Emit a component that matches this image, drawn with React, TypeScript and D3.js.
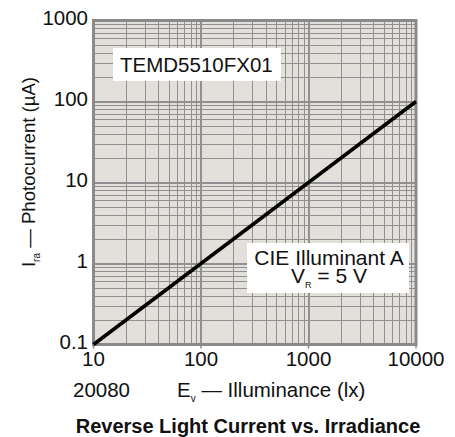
import { useEffect, useRef } from "react";
import * as d3 from "d3";

// Reverse light current vs. illuminance (log-log)
const illuminance = [10, 10000];
const photocurrent = [0.1, 100];

const xTicks = [10, 100, 1000, 10000];
const yTicks = [0.1, 1, 10, 100, 1000];

const FONT = "'Liberation Sans', Arial, Helvetica, sans-serif";

export default function App() {
  const svgRef = useRef<SVGSVGElement | null>(null);

  useEffect(() => {
    if (!svgRef.current) return;
    const W = 455, H = 437;
    const svg = d3.select(svgRef.current);
    svg.selectAll("*").remove();
    svg.attr("width", W).attr("height", H).attr("font-family", FONT);

    const x = d3.scaleLog().domain([10, 10000]).range([93.5, 416]);
    const y = d3.scaleLog().domain([0.1, 1000]).range([344.5, 20.5]);
    const [x0, x1] = x.range();
    const [y0, y1] = y.range();

    svg.append("rect")
      .attr("x", x0).attr("y", y1).attr("width", x1 - x0).attr("height", y0 - y1)
      .attr("fill", "#e3dfdb");

    // grid: minor lines at 2..9 of every decade, majors at decades
    const minorX: number[] = [];
    for (let d = 10; d < 10000; d *= 10) for (let k = 2; k <= 9; k++) minorX.push(d * k);
    const minorY: number[] = [];
    for (let d = 0.1; d < 999; d *= 10) for (let k = 2; k <= 9; k++) minorY.push(+(d * k).toPrecision(3));

    const grid = svg.append("g").attr("stroke", "#909090").attr("shape-rendering", "crispEdges");
    grid.selectAll("line.vx").data(minorX).join("line")
      .attr("x1", (d) => Math.round(x(d)) + 0.5).attr("x2", (d) => Math.round(x(d)) + 0.5)
      .attr("y1", y1).attr("y2", y0).attr("stroke-width", 1);
    grid.selectAll("line.hy").data(minorY).join("line")
      .attr("y1", (d) => Math.round(y(d)) + 0.5).attr("y2", (d) => Math.round(y(d)) + 0.5)
      .attr("x1", x0).attr("x2", x1).attr("stroke-width", 1);
    grid.selectAll("line.mx").data(xTicks.slice(1, -1)).join("line")
      .attr("x1", (d) => x(d)).attr("x2", (d) => x(d))
      .attr("y1", y1).attr("y2", y0).attr("stroke-width", 2);
    grid.selectAll("line.my").data(yTicks.slice(1, -1)).join("line")
      .attr("y1", (d) => y(d)).attr("y2", (d) => y(d))
      .attr("x1", x0).attr("x2", x1).attr("stroke-width", 2);

    // frame
    svg.append("rect")
      .attr("x", x0).attr("y", y1).attr("width", x1 - x0).attr("height", y0 - y1)
      .attr("fill", "none").attr("stroke", "#8a8a8a").attr("stroke-width", 3);

    // tick marks below the frame at decades
    svg.append("g").selectAll("line").data(xTicks).join("line")
      .attr("x1", (d) => x(d)).attr("x2", (d) => x(d))
      .attr("y1", y0).attr("y2", y0 + 4)
      .attr("stroke", "#8a8a8a").attr("stroke-width", 1.5);

    // annotation boxes
    svg.append("rect").attr("x", 113).attr("y", 48).attr("width", 168).attr("height", 33).attr("fill", "#fff");
    svg.append("text").attr("x", 120).attr("y", 72).attr("font-size", 20.5).attr("fill", "#111")
      .text("TEMD5510FX01");

    svg.append("rect").attr("x", 247).attr("y", 243).attr("width", 162).attr("height", 50).attr("fill", "#fff");
    svg.append("text").attr("x", 329).attr("y", 265).attr("font-size", 21).attr("fill", "#111")
      .attr("text-anchor", "middle").text("CIE Illuminant A");
    const vr = svg.append("text").attr("x", 329).attr("y", 283).attr("font-size", 21).attr("fill", "#111")
      .attr("text-anchor", "middle");
    vr.append("tspan").text("V");
    vr.append("tspan").attr("font-size", 9).attr("dy", 5).text("R");
    vr.append("tspan").attr("dy", -5).text(" = 5 V");

    // response line
    const line = d3.line<number>()
      .x((_, i) => x(illuminance[i]))
      .y((d) => y(d));
    svg.append("path").datum(photocurrent).attr("d", line as any)
      .attr("fill", "none").attr("stroke", "#000").attr("stroke-width", 3.5);

    // tick labels
    svg.append("g").selectAll("text").data(xTicks).join("text")
      .attr("x", (d) => x(d)).attr("y", 366).attr("text-anchor", "middle")
      .attr("font-size", 20.5).attr("fill", "#111").text((d) => String(d));
    svg.append("g").selectAll("text").data(yTicks).join("text")
      .attr("x", 88).attr("y", (d) => y(d) + 4).attr("text-anchor", "end")
      .attr("font-size", 20.5).attr("fill", "#111").text((d) => String(d));

    // axis titles
    const yl = svg.append("text").attr("transform", "translate(35,172) rotate(-90)")
      .attr("text-anchor", "middle").attr("font-size", 18.6).attr("fill", "#111");
    yl.append("tspan").text("I");
    yl.append("tspan").attr("font-size", 10).attr("dy", 5).text("ra");
    yl.append("tspan").attr("dy", -5).text(" \u2014 Photocurrent (\u00b5A)");

    svg.append("text").attr("x", 73).attr("y", 397).attr("font-size", 20.5).attr("fill", "#111").text("20080");
    const xl = svg.append("text").attr("x", 177).attr("y", 397).attr("font-size", 20.5).attr("fill", "#111");
    xl.append("tspan").text("E");
    xl.append("tspan").attr("font-size", 10).attr("dy", 5).text("v");
    xl.append("tspan").attr("dy", -5).text(" \u2014 Illuminance (lx)");

    svg.append("text").attr("x", 248).attr("y", 433).attr("text-anchor", "middle")
      .attr("font-size", 20).attr("font-weight", "bold").attr("fill", "#111")
      .text("Reverse Light Current vs. Irradiance");
  }, []);

  return <svg ref={svgRef} style={{ position: "absolute", left: 0, top: 0, display: "block" }} />;
}
